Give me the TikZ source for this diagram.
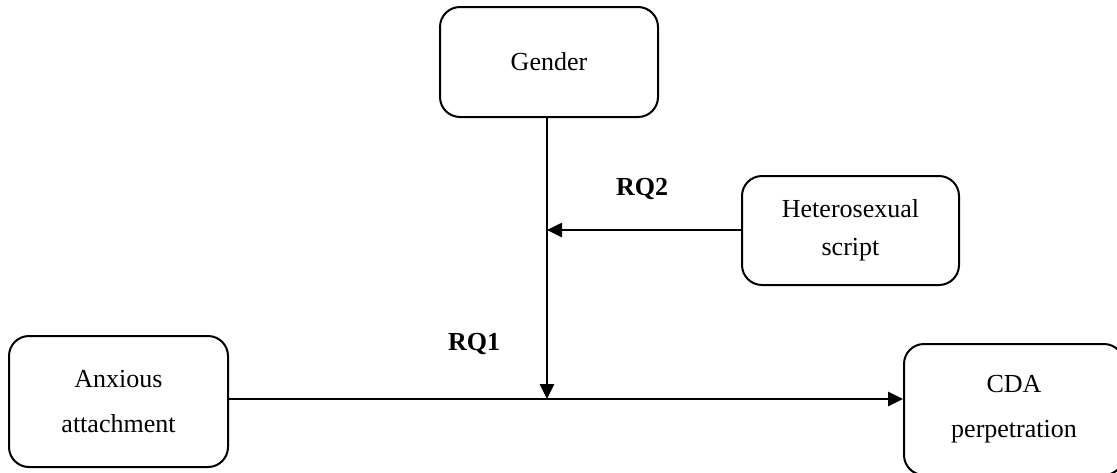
\documentclass[tikz,border=0pt]{standalone}
\usepackage{fontspec}
\setmainfont{Liberation Serif}
\usetikzlibrary{arrows.meta}
\begin{document}
\begin{tikzpicture}[x=1pt,y=-1pt,
  varbox/.style={draw, line width=2pt, rounded corners=20pt, align=center,
    inner sep=0pt, font=\fontsize{26}{45}\selectfont},
  link/.style={line width=2.6pt, -{Triangle[length=15pt,width=14pt]}},
  rqlabel/.style={font=\fontsize{26}{30}\selectfont\bfseries, inner sep=0pt}]
  \clip (0,0) rectangle (1117,472);
  \useasboundingbox (0,0) rectangle (1117,472);

  % variables
  \node[varbox, minimum width=218pt, minimum height=110pt] (gender) at (549,62) {Gender};
  \node[varbox, minimum width=217pt, minimum height=109pt, font=\fontsize{26}{38}\selectfont]
    (script) at (850.5,230.5) {Heterosexual\\script};
  \node[varbox, minimum width=219pt, minimum height=131pt] (anx) at (118.5,401.5) {Anxious\\attachment};
  \node[varbox, minimum width=220pt, minimum height=131pt] (cda) at (1014,409.5) {CDA\\perpetration};

  % moderation points on the main path
  \coordinate (main) at (547,399);
  \coordinate (mod) at (547,230);

  % paths
  \draw[line width=2.6pt] (anx.east |- main) -- (main);
  \draw[link] (main) -- (main -| cda.west);
  \draw[link] (gender.south -| main) -- (main);
  \draw[link] (script.west |- mod) -- (mod);

  % research question labels
  \node[rqlabel, anchor=base] (rq2) at (642,195) {RQ2};
  \node[rqlabel, anchor=base] (rq1) at (474,350) {RQ1};
\end{tikzpicture}
\end{document}
